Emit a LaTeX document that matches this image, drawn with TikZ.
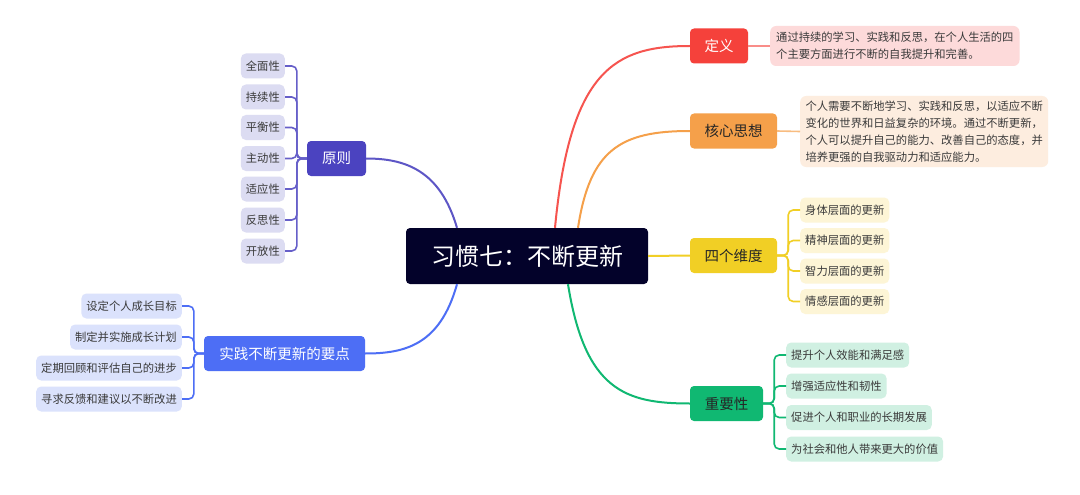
\documentclass[tikz,border=0pt]{standalone}
\usepackage{fontspec}
\setmainfont{Noto Sans CJK SC}
\begin{document}
\begin{tikzpicture}[x=1pt,y=-1pt,
  root/.style={fill=rootc,rounded corners=4pt,text=white,minimum width=242pt,minimum height=56pt,inner sep=0pt,font=\fontsize{24}{28}\selectfont},
  branch/.style={rounded corners=4pt,minimum height=35pt,inner sep=0pt,font=\fontsize{14.5}{17}\selectfont},
  leaf/.style={rounded corners=5pt,minimum height=25pt,inner sep=0pt,inner xsep=5pt,text=leaftxt,font=\fontsize{11.3}{14}\selectfont},
  detail/.style={rounded corners=6pt,inner sep=0pt,text=leaftxt,align=left,font=\fontsize{11.3}{17}\selectfont},
  conn/.style={line width=2pt},
  sub/.style={line width=1.6pt,rounded corners=5pt}
]
\definecolor{rootc}{HTML}{03022A}
\definecolor{leaftxt}{HTML}{3A3A3A}
\definecolor{redc}{HTML}{F5413B}
\definecolor{redl}{HTML}{FDDADA}
\definecolor{orac}{HTML}{F5A04A}
\definecolor{oral}{HTML}{FDEDDF}
\definecolor{yelc}{HTML}{F1CF25}
\definecolor{yell}{HTML}{FDF5D6}
\definecolor{grec}{HTML}{10B872}
\definecolor{grel}{HTML}{D0F0E2}
\definecolor{purc}{HTML}{4B43C0}
\definecolor{purl}{HTML}{DCDCF2}
\definecolor{bluc}{HTML}{4D6EF5}
\definecolor{blul}{HTML}{DBE2FC}
\useasboundingbox (0,0) rectangle (1080,495);
\fill[white] (0,0) rectangle (1080,495);

% root
\node[root] (root) at (527,256) {习惯七：不断更新};

% right branches
\node[branch,fill=redc,text=white,minimum width=58pt] (def) at (719,46) {定义};
\node[detail,fill=redl,minimum width=248pt,minimum height=40pt,inner xsep=6pt,anchor=west] (defd) at (770,46) {通过持续的学习、实践和反思，在个人生活的四\\个主要方面进行不断的自我提升和完善。};
\node[branch,fill=orac,text=black!85,minimum width=87pt] (core) at (733.5,131) {核心思想};
\node[detail,fill=oral,minimum width=248pt,minimum height=71pt,inner xsep=5pt,anchor=west] (cored) at (800,131.5) {个人需要不断地学习、实践和反思，以适应不断\\变化的世界和日益复杂的环境。通过不断更新，\\个人可以提升自己的能力、改善自己的态度，并\\培养更强的自我驱动力和适应能力。};
\node[branch,fill=yelc,text=black!85,minimum width=87pt] (dim) at (733.5,255.5) {四个维度};
\node[branch,fill=grec,text=black!85,minimum width=73pt] (imp) at (726.5,403.5) {重要性};

% left branches
\node[branch,fill=purc,text=white,minimum width=59pt] (prin) at (336.5,158.5) {原则};
\node[branch,fill=bluc,text=white,minimum width=161pt] (prac) at (284.5,353.5) {实践不断更新的要点};

% dim leaves
\foreach \t/\y/\n in {身体层面的更新/210/d1,精神层面的更新/240.5/d2,智力层面的更新/271/d3,情感层面的更新/301.5/d4}
  \node[leaf,fill=yell,anchor=west] (\n) at (800,\y) {\t};
% importance leaves
\foreach \t/\y/\n in {提升个人效能和满足感/355/i1,增强适应性和韧性/386/i2,促进个人和职业的长期发展/417.5/i3,为社会和他人带来更大的价值/449/i4}
  \node[leaf,fill=grel,anchor=west] (\n) at (786,\y) {\t};
% principle leaves
\foreach \t/\y/\n in {全面性/66/p1,持续性/97/p2,平衡性/127.5/p3,主动性/158.5/p4,适应性/189/p5,反思性/220/p6,开放性/251/p7}
  \node[leaf,fill=purl,anchor=east] (\n) at (285,\y) {\t};
% practice leaves
\foreach \t/\y/\n in {设定个人成长目标/306/q1,制定并实施成长计划/337/q2,定期回顾和评估自己的进步/368/q3,寻求反馈和建议以不断改进/399/q4}
  \node[leaf,fill=blul,anchor=east] (\n) at (182,\y) {\t};

% main connectors
\draw[conn,redc!90] ([xshift=28pt]root.north) .. controls (570,70) and (615,46) .. (def.west);
\draw[conn,orac] ([xshift=51pt]root.north) .. controls (590,150) and (620,131) .. (core.west);
\draw[conn,yelc] (root.east) -- (dim.west);
\draw[conn,grec] ([xshift=41pt]root.south) .. controls (585,390) and (625,403.5) .. (imp.west);
\draw[conn,purc!90] ([xshift=-70pt]root.north) .. controls (440,170) and (405,158.5) .. (prin.east);
\draw[conn,bluc] ([xshift=-70pt]root.south) .. controls (440,345) and (405,353.5) .. (prac.east);

% detail connectors
\draw[line width=1.6pt,redc!60] (def.east) -- (defd.west);
\draw[line width=1.6pt,orac!70] (core.east) -- (cored.west);

% sub connectors
\foreach \n in {d1,d2,d3,d4} \draw[sub,yelc] (dim.east) -- ++(11,0) |- (\n.west);
\foreach \n in {i1,i2,i3,i4} \draw[sub,grec] (imp.east) -- ++(11,0) |- (\n.west);
\foreach \n in {p1,p2,p3,p4,p5,p6,p7} \draw[sub,purc!85] (prin.west) -- ++(-10,0) |- (\n.east);
\foreach \n in {q1,q2,q3,q4} \draw[sub,bluc] (prac.west) -- ++(-10,0) |- (\n.east);
\end{tikzpicture}
\end{document}
